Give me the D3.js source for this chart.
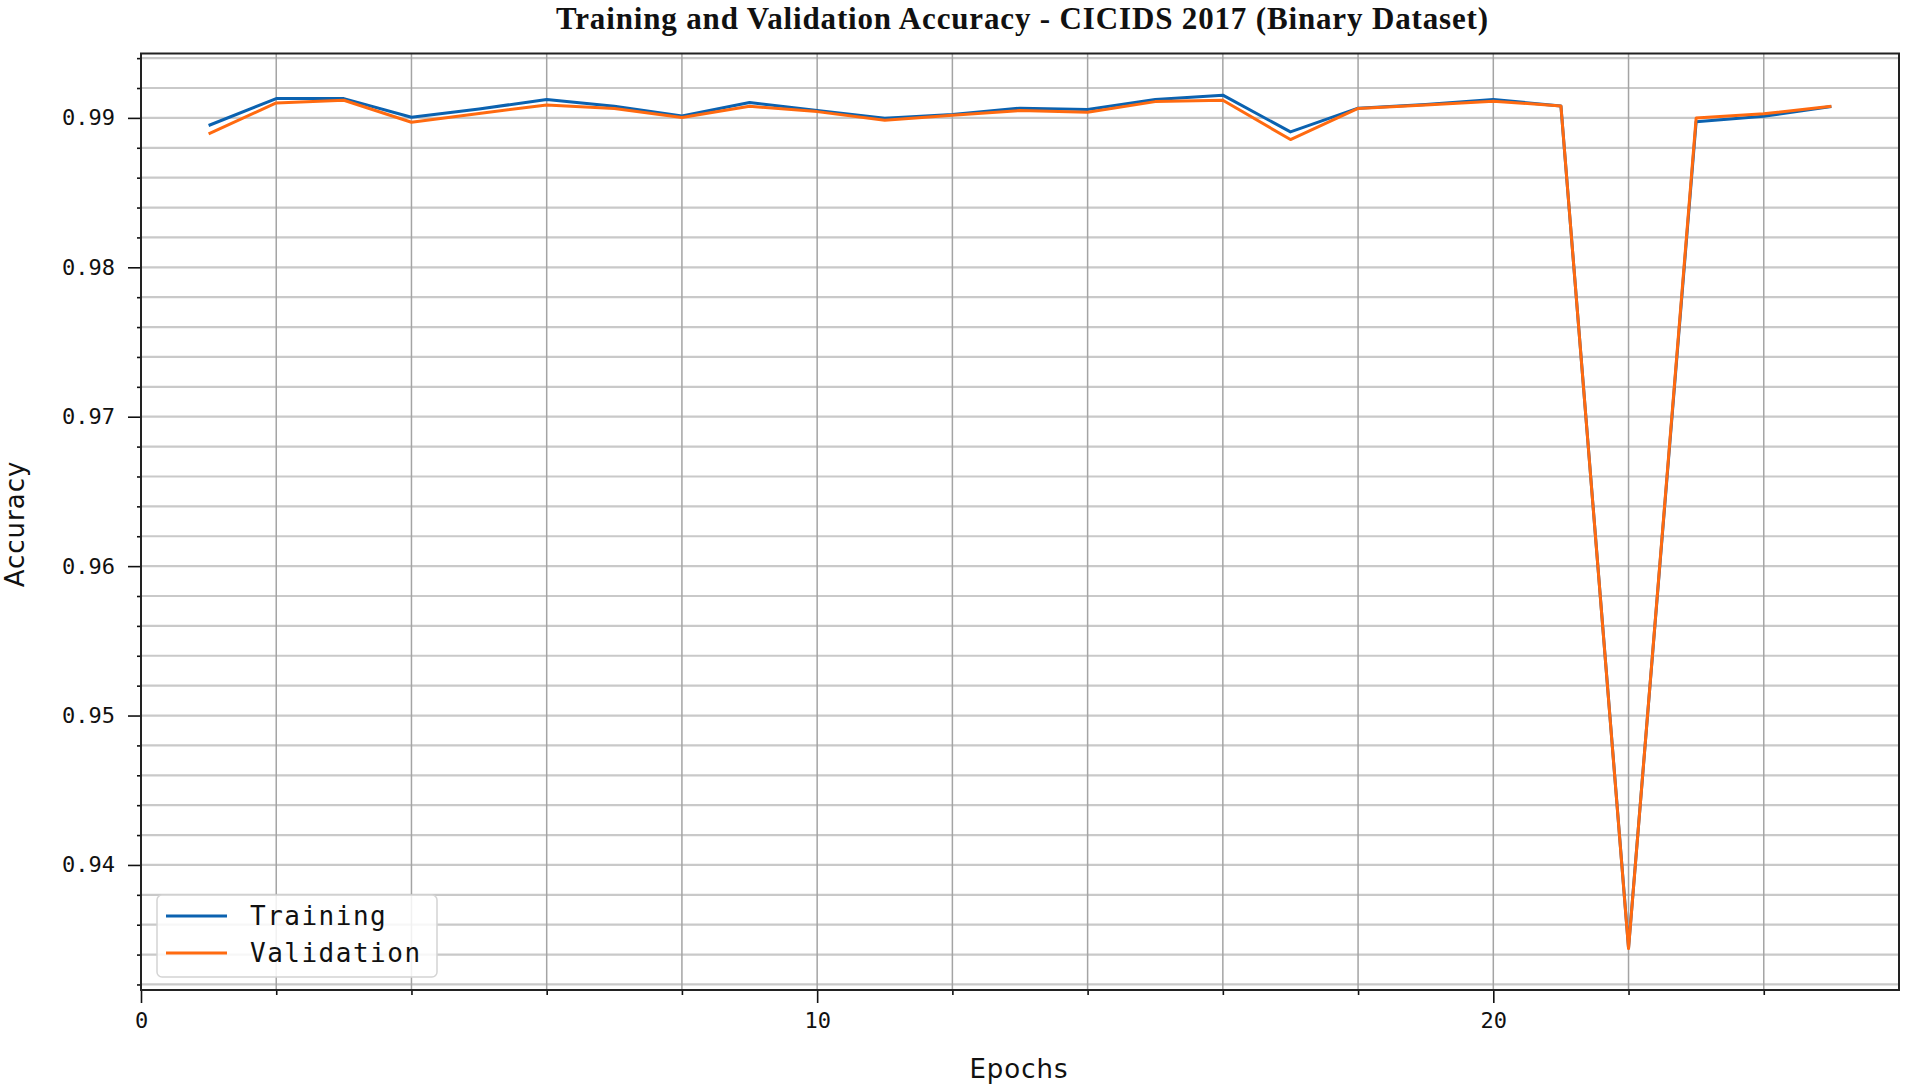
<!DOCTYPE html>
<html>
<head>
<meta charset="utf-8">
<script src="https://cdn.jsdelivr.net/npm/d3@7"></script>
<style>
  html, body { margin: 0; padding: 0; background: #fff; }
  svg { display: block; }
</style>
</head>
<body>
<svg id="chart" width="1905" height="1089"></svg>
<script>
// ---- data ----
const epochs = [1,2,3,4,5,6,7,8,9,10,11,12,13,14,15,16,17,18,19,20,21,22,23,24,25];
const trainingAcc = [0.98949,0.99129,0.99129,0.99004,0.99060,0.99123,0.99078,0.99013,0.99103,0.99049,
                     0.98998,0.99022,0.99065,0.99056,0.99123,0.99152,0.98906,0.99065,0.99089,0.99123,
                     0.99080,0.93445,0.98975,0.99011,0.99077];
const validationAcc = [0.98893,0.99100,0.99118,0.98971,0.99030,0.99087,0.99063,0.99002,0.99078,0.99042,
                       0.98984,0.99018,0.99049,0.99038,0.99109,0.99118,0.98855,0.99063,0.99087,0.99112,
                       0.99080,0.93440,0.99000,0.99027,0.99078];
const seriesNames = ["Training", "Validation"];
const xMajorTicks = [0, 10, 20];
const xMinorTicks = [2,4,6,8,12,14,16,18,22,24];
const xGridTicks = [2,4,6,8,10,12,14,16,18,20,22,24];
const yMajorTicks = [0.94, 0.95, 0.96, 0.97, 0.98, 0.99];
const yMinorTicks = d3.range(0, 32).map(i => +(0.932 + i * 0.002).toFixed(3));
const titleText = "Training and Validation Accuracy - CICIDS 2017 (Binary Dataset)";
const xLabel = "Epochs";
const yLabel = "Accuracy";

// ---- layout ----
const L = 141, R = 1899, T = 53.5, B = 990;
const colors = ["#0b62b0", "#ff6a10"];

const svg = d3.select("#chart");
const x = d3.scaleLinear().domain([0, 26]).range([L, R]);
const y = d3.scaleLinear().domain([0.93163, 0.99431]).range([B, T]);

// grid
const grid = svg.append("g");
grid.selectAll("line.h").data(yMinorTicks).join("line")
  .attr("x1", L).attr("x2", R)
  .attr("y1", d => y(d)).attr("y2", d => y(d))
  .attr("stroke", "#c9c9c9").attr("stroke-width", 2.2);
grid.selectAll("line.v").data(xGridTicks).join("line")
  .attr("x1", d => x(d)).attr("x2", d => x(d))
  .attr("y1", T).attr("y2", B)
  .attr("stroke", "#a4a4a4").attr("stroke-width", 1.5);

// lines
const line = d3.line().x((d, i) => x(epochs[i])).y(d => y(d));
[trainingAcc, validationAcc].forEach((s, k) => {
  svg.append("path").datum(s)
    .attr("fill", "none")
    .attr("stroke", colors[k])
    .attr("stroke-width", 3)
    .attr("stroke-linejoin", "round")
    .attr("d", line);
});

// axes
const monoFont = "'DejaVu Sans Mono', monospace";
const xAxisMajor = svg.append("g").attr("transform", `translate(0,${B})`)
  .call(d3.axisBottom(x).tickValues(xMajorTicks).tickSize(13).tickPadding(9).tickFormat(d3.format("d")));
const xAxisMinor = svg.append("g").attr("transform", `translate(0,${B})`)
  .call(d3.axisBottom(x).tickValues(xMinorTicks).tickSize(5).tickFormat(""));
const yAxisMajor = svg.append("g").attr("transform", `translate(${L},0)`)
  .call(d3.axisLeft(y).tickValues(yMajorTicks).tickSize(13).tickPadding(13).tickFormat(d3.format(".2f")));
const yAxisMinor = svg.append("g").attr("transform", `translate(${L},0)`)
  .call(d3.axisLeft(y).tickValues(yMinorTicks.filter(v => !yMajorTicks.some(m => Math.abs(m - v) < 1e-6))).tickSize(4).tickFormat(""));

[xAxisMajor, xAxisMinor, yAxisMajor, yAxisMinor].forEach(g => {
  g.select(".domain").remove();
  g.selectAll(".tick line").attr("stroke", "#111").attr("stroke-width", 1.6);
  g.selectAll(".tick text")
    .attr("fill", "#111")
    .style("font-family", monoFont)
    .style("font-size", "22px");
});

// spines
svg.append("rect").attr("x", L).attr("y", T).attr("width", R - L).attr("height", B - T)
  .attr("fill", "none").attr("stroke", "#222").attr("stroke-width", 2);

// title
svg.append("text").attr("x", 1022).attr("y", 29)
  .attr("text-anchor", "middle")
  .attr("textLength", 932)
  .attr("lengthAdjust", "spacing")
  .style("font-family", "'Liberation Serif', 'Times New Roman', serif")
  .style("font-weight", "bold")
  .style("font-size", "31px")
  .attr("fill", "#111")
  .text(titleText);

// axis labels
svg.append("text").attr("x", 1019).attr("y", 1078)
  .attr("text-anchor", "middle")
  .style("font-family", "'DejaVu Sans', sans-serif")
  .style("font-size", "26px").style("letter-spacing", "1px")
  .attr("fill", "#111").text(xLabel);
svg.append("text")
  .attr("transform", "translate(24,524) rotate(-90)")
  .attr("text-anchor", "middle")
  .style("font-family", "'DejaVu Sans', sans-serif")
  .style("font-size", "26px").style("letter-spacing", "1px")
  .attr("fill", "#111").text(yLabel);

// legend
const lg = svg.append("g");
lg.append("rect").attr("x", 157).attr("y", 895).attr("width", 280).attr("height", 82)
  .attr("rx", 5).attr("fill", "#fff").attr("fill-opacity", 0.85)
  .attr("stroke", "#d4d4d4").attr("stroke-width", 1.5);
seriesNames.forEach((name, i) => {
  const cy = 916 + i * 37;
  lg.append("line").attr("x1", 166).attr("x2", 227).attr("y1", cy).attr("y2", cy)
    .attr("stroke", colors[i]).attr("stroke-width", 3);
  lg.append("text").attr("x", 250).attr("y", cy + 9)
    .style("font-family", monoFont).style("font-size", "26px").style("letter-spacing", "1.5px")
    .attr("fill", "#111").text(name);
});
</script>
</body>
</html>
